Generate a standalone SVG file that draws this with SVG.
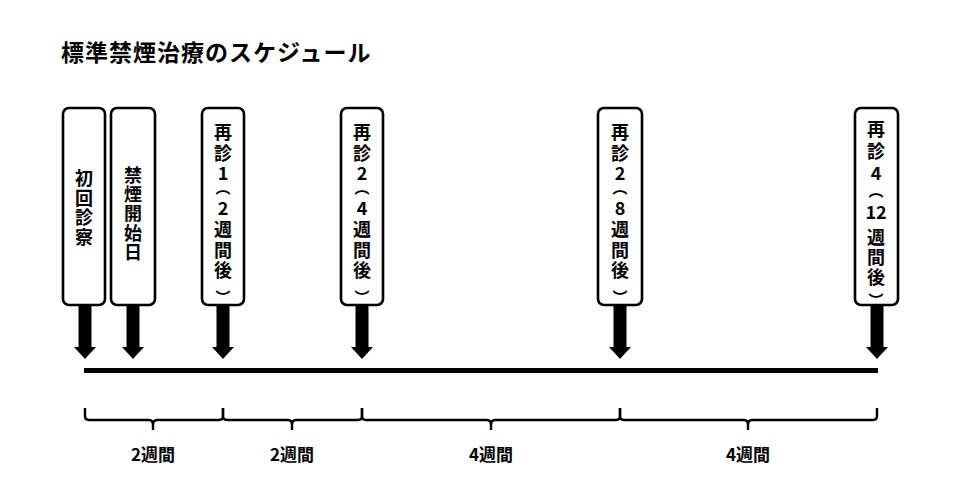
<svg xmlns="http://www.w3.org/2000/svg" width="962" height="490" viewBox="0 0 962 490">
<style>
.bg{fill:#fff}
.box{fill:#fff;stroke:#000;stroke-width:2.6}
.t{font-family:"Noto Sans CJK JP","Noto Sans",sans-serif;font-weight:bold;font-size:18px;fill:#000;text-anchor:middle}
.p{font-family:"Noto Sans CJK JP","Noto Sans",sans-serif;font-weight:bold;font-size:15px;fill:#000;text-anchor:middle}
.title{font-family:"Noto Sans CJK JP","Noto Sans",sans-serif;font-weight:bold;font-size:23px;fill:#000;letter-spacing:1px}
.lbl{font-family:"Noto Sans CJK JP","Noto Sans",sans-serif;font-weight:bold;font-size:17px;fill:#000;text-anchor:middle}
.arr{fill:#000}
.br{fill:none;stroke:#000;stroke-width:2.4;stroke-linejoin:round}
</style>
<defs>
<polygon id="arrow" points="-6.5,0 6.5,0 6.5,42 11,42 0,54 -11,42 -6.5,42"/>
</defs>
<rect class="bg" x="0" y="0" width="962" height="490"/>
<text id="title" class="title" x="61" y="61">標準禁煙治療のスケジュール</text>

<g id="connectors">
<use href="#arrow" class="arr" x="85" y="305"/>
<use href="#arrow" class="arr" x="133" y="305"/>
<use href="#arrow" class="arr" x="223" y="305"/>
<use href="#arrow" class="arr" x="362" y="305"/>
<use href="#arrow" class="arr" x="620" y="305"/>
<use href="#arrow" class="arr" x="877" y="305"/>
<rect x="84" y="368" width="794" height="5" fill="#000"/>
<path class="br" d="M85,408 V416 Q85,420 89,420 H149 Q153,420 153,425 V430 M153,425 Q153,420 157,420 H219 Q223,420 223,416 V408"/>
<path class="br" d="M223,408 V416 Q223,420 227,420 H288 Q292,420 292,425 V430 M292,425 Q292,420 296,420 H358 Q362,420 362,416 V408"/>
<path class="br" d="M362,408 V416 Q362,420 366,420 H487 Q491,420 491,425 V430 M491,425 Q491,420 495,420 H616 Q620,420 620,416 V408"/>
<path class="br" d="M620,408 V416 Q620,420 624,420 H744 Q748,420 748,425 V430 M748,425 Q748,420 752,420 H873 Q877,420 877,416 V408"/>
</g>

<g id="labels">
<text class="lbl" x="153" y="461">2週間</text>
<text class="lbl" x="292" y="461">2週間</text>
<text class="lbl" x="491" y="461">4週間</text>
<text class="lbl" x="748" y="461">4週間</text>
</g>

<g id="node-shoshin">
<rect class="box" x="63" y="108" width="42" height="197" rx="6"/>
<text class="t" x="84" y="185">初</text>
<text class="t" x="84" y="205">回</text>
<text class="t" x="84" y="224">診</text>
<text class="t" x="84" y="244">察</text>
</g>

<g id="node-kinen">
<rect class="box" x="111" y="108" width="44" height="197" rx="6"/>
<text class="t" x="133" y="182">禁</text>
<text class="t" x="133" y="201">煙</text>
<text class="t" x="133" y="220">開</text>
<text class="t" x="133" y="240">始</text>
<text class="t" x="133" y="259">日</text>
</g>

<g id="node-saishin1">
<rect class="box" x="202" y="108" width="42" height="197" rx="6"/>
<text class="t" x="223" y="138.5">再</text>
<text class="t" x="223" y="159.5">診</text>
<text class="t" x="223" y="180">1</text>
<text class="p" x="223" y="193.2">︵</text>
<text class="t" x="223" y="215">2</text>
<text class="t" x="223" y="236">週</text>
<text class="t" x="223" y="257">間</text>
<text class="t" x="223" y="277">後</text>
<text class="p" x="223" y="302.5">︶</text>
</g>

<g id="node-saishin2a">
<rect class="box" x="341" y="108" width="42" height="197" rx="6"/>
<text class="t" x="362" y="138.5">再</text>
<text class="t" x="362" y="159.5">診</text>
<text class="t" x="362" y="180">2</text>
<text class="p" x="362" y="193.2">︵</text>
<text class="t" x="362" y="215">4</text>
<text class="t" x="362" y="236">週</text>
<text class="t" x="362" y="257">間</text>
<text class="t" x="362" y="277">後</text>
<text class="p" x="362" y="302.5">︶</text>
</g>

<g id="node-saishin2b">
<rect class="box" x="598" y="108" width="44" height="197" rx="6"/>
<text class="t" x="620" y="138.5">再</text>
<text class="t" x="620" y="159.5">診</text>
<text class="t" x="620" y="180">2</text>
<text class="p" x="620" y="193.2">︵</text>
<text class="t" x="620" y="215">8</text>
<text class="t" x="620" y="236">週</text>
<text class="t" x="620" y="257">間</text>
<text class="t" x="620" y="277">後</text>
<text class="p" x="620" y="302.5">︶</text>
</g>

<g id="node-saishin4">
<rect class="box" x="855" y="108" width="43" height="197" rx="6"/>
<text class="t" x="876" y="136">再</text>
<text class="t" x="876" y="158">診</text>
<text class="t" x="876" y="180">4</text>
<text class="p" x="876" y="196.2">︵</text>
<text class="t" x="876" y="219">12</text>
<text class="t" x="876" y="244">週</text>
<text class="t" x="876" y="264">間</text>
<text class="t" x="876" y="284">後</text>
<text class="p" x="876" y="305.5">︶</text>
</g>
</svg>
